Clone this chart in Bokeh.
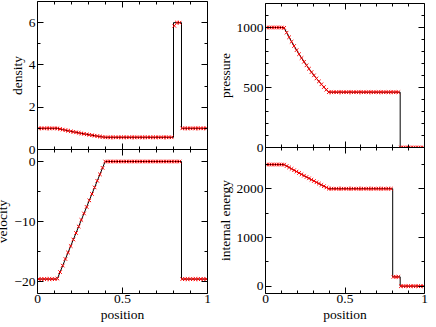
from bokeh.plotting import figure
from bokeh.models import LinearAxis, FixedTicker, Range1d
from bokeh.layouts import row, column
from bokeh.embed import file_html
from bokeh.resources import INLINE

# ---- exact solution (line) ----
x_exact = [0.0, 0.116, 0.163, 0.210, 0.257, 0.304, 0.351, 0.398, 0.8, 0.8, 0.847, 0.847, 1.0]
rho_exact = [1.0, 1.0, 0.9157, 0.8372, 0.7641, 0.6963, 0.6334, 0.5751, 0.5751, 5.999, 5.999, 1.0, 1.0]
vel_exact = [-19.6, -19.6, -16.33, -13.07, -9.80, -6.53, -3.27, 0.0, 0.0, 0.0, 0.0, -19.6, -19.6]
prs_exact = [1000, 1000, 884.0, 779.7, 686.2, 602.4, 527.6, 460.9, 460.9, 460.9, 460.9, 0.01, 0.01]
ene_exact = [2500, 2500, 2413.5, 2328.5, 2245.0, 2163.0, 2082.6, 2003.5, 2003.5, 192.1, 192.1, 0.025, 0.025]

# ---- numerical solution (markers) ----
x_cells = [0.0078, 0.0234, 0.0391, 0.0547, 0.0703, 0.0859, 0.1016, 0.1172, 0.1328, 0.1484,
           0.1641, 0.1797, 0.1953, 0.2109, 0.2266, 0.2422, 0.2578, 0.2734, 0.2891, 0.3047,
           0.3203, 0.3359, 0.3516, 0.3672, 0.3828, 0.3984, 0.4141, 0.4297, 0.4453, 0.4609,
           0.4766, 0.4922, 0.5078, 0.5234, 0.5391, 0.5547, 0.5703, 0.5859, 0.6016, 0.6172,
           0.6328, 0.6484, 0.6641, 0.6797, 0.6953, 0.7109, 0.7266, 0.7422, 0.7578, 0.7734,
           0.7891, 0.8047, 0.8203, 0.8359, 0.8516, 0.8672, 0.8828, 0.8984, 0.9141, 0.9297,
           0.9453, 0.9609, 0.9766, 0.9922]
density = [1.0, 1.0, 1.0, 1.0, 1.0, 1.0, 1.0,
           0.9978, 0.9692, 0.9412, 0.9138, 0.8872, 0.8611, 0.8357, 0.8108, 0.7866, 0.7629,
           0.7399, 0.7173, 0.6954, 0.6740, 0.6531, 0.6326, 0.6128, 0.5935,
           0.5751, 0.5751, 0.5751, 0.5751, 0.5751, 0.5751, 0.5751, 0.5751, 0.5751, 0.5751,
           0.5751, 0.5751, 0.5751, 0.5751, 0.5751, 0.5751, 0.5751, 0.5751, 0.5751, 0.5751,
           0.5751, 0.5751, 0.5751, 0.5751, 0.5751, 0.5751,
           5.85, 6.0, 6.0,
           1.0, 1.0, 1.0, 1.0, 1.0, 1.0, 1.0, 1.0, 1.0, 1.0]
velocity = [-19.6, -19.6, -19.6, -19.6, -19.6, -19.6, -19.6,
            -19.51, -18.43, -17.35, -16.25, -15.17, -14.09, -13.00, -11.91, -10.83, -9.74,
            -8.66, -7.57, -6.48, -5.40, -4.32, -3.22, -2.14, -1.06,
            0.0, 0.0, 0.0, 0.0, 0.0, 0.0, 0.0, 0.0, 0.0, 0.0,
            0.0, 0.0, 0.0, 0.0, 0.0, 0.0, 0.0, 0.0, 0.0, 0.0,
            0.0, 0.0, 0.0, 0.0, 0.0, 0.0,
            0.0, 0.0, 0.0,
            -19.6, -19.6, -19.6, -19.6, -19.6, -19.6, -19.6, -19.6, -19.6, -19.6]
pressure = [1000, 1000, 1000, 1000, 1000, 1000, 1000,
            996.9, 957.1, 918.7, 881.4, 845.7, 811.1, 777.8, 745.5, 714.5, 684.7,
            655.9, 628.0, 601.2, 575.5, 550.7, 526.7, 503.7, 481.6,
            460.9, 460.9, 460.9, 460.9, 460.9, 460.9, 460.9, 460.9, 460.9, 460.9,
            460.9, 460.9, 460.9, 460.9, 460.9, 460.9, 460.9, 460.9, 460.9, 460.9,
            460.9, 460.9, 460.9, 460.9, 460.9, 460.9,
            460.9, 460.9, 460.9,
            0.01, 0.01, 0.01, 0.01, 0.01, 0.01, 0.01, 0.01, 0.01, 0.01]
energy = [2500, 2500, 2500, 2500, 2500, 2500, 2500,
          2497.8, 2468.9, 2440.2, 2411.5, 2383.1, 2354.9, 2326.9, 2298.8, 2271.1, 2243.6,
          2216.2, 2188.8, 2161.8, 2134.9, 2108.2, 2081.5, 2055.2, 2029.0,
          2003.5, 2003.5, 2003.5, 2003.5, 2003.5, 2003.5, 2003.5, 2003.5, 2003.5, 2003.5,
          2003.5, 2003.5, 2003.5, 2003.5, 2003.5, 2003.5, 2003.5, 2003.5, 2003.5, 2003.5,
          2003.5, 2003.5, 2003.5, 2003.5, 2003.5, 2003.5,
          192.1, 192.1, 192.1,
          0.025, 0.025, 0.025, 0.025, 0.025, 0.025, 0.025, 0.025, 0.025, 0.025]

# ---- axes ----
x_major = [0, 0.5, 1]
x_minor = [0.1, 0.2, 0.3, 0.4, 0.6, 0.7, 0.8, 0.9]
x_label = "position"

FONT = "Liberation Serif"
FS = "13.5px"


def base_axis(ax):
    ax.major_tick_out = 0
    ax.minor_tick_out = 0
    ax.axis_line_color = "black"
    ax.axis_line_width = 1
    ax.major_tick_line_color = "black"
    ax.minor_tick_line_color = "black"
    ax.major_label_text_font = FONT
    ax.major_label_text_color = "black"
    ax.major_label_text_font_size = FS


def labelled_axis(ticks, minor, label, standoff, label_standoff):
    ax = LinearAxis(ticker=FixedTicker(ticks=ticks, minor_ticks=minor))
    base_axis(ax)
    ax.major_tick_in = 6
    ax.minor_tick_in = 3
    ax.major_label_standoff = standoff
    ax.axis_label = label
    ax.axis_label_text_font = FONT
    ax.axis_label_text_font_size = FS
    ax.axis_label_text_font_style = "normal"
    ax.axis_label_text_color = "black"
    ax.axis_label_standoff = label_standoff
    return ax


def plain_axes(ticks, minor):
    # inward ticks only, no labels (major ticks drawn as long unlabelled ticks)
    a1 = LinearAxis(ticker=FixedTicker(ticks=[], minor_ticks=minor))
    base_axis(a1)
    a1.minor_tick_in = 3
    a1.major_label_standoff = 0
    a2 = LinearAxis(ticker=FixedTicker(ticks=[], minor_ticks=ticks))
    base_axis(a2)
    a2.minor_tick_in = 6
    a2.major_label_standoff = 0
    a2.axis_line_color = None
    return [a1, a2]


def make_panel(w, h, yr, borders, ylabel, yticks, yminor, bottom_labels, xd, yd, xl, yl):
    bl, br, bt, bb = borders
    p = figure(width=w, height=h, x_range=Range1d(0, 1), y_range=Range1d(*yr),
               output_backend="svg", toolbar_location=None,
               x_axis_location=None, y_axis_location=None,
               min_border_left=bl, min_border_right=br,
               min_border_top=bt, min_border_bottom=bb)
    p.outline_line_color = None
    p.background_fill_color = "white"
    p.border_fill_color = "white"
    p.xgrid.visible = False
    p.ygrid.visible = False

    p.add_layout(labelled_axis(yticks, yminor, ylabel, 2, 1), "left")
    for a in plain_axes(yticks, yminor):
        p.add_layout(a, "right")
    if bottom_labels:
        p.add_layout(labelled_axis(x_major, x_minor, x_label, 1, 1), "below")
    else:
        for a in plain_axes(x_major, x_minor):
            p.add_layout(a, "below")
    for a in plain_axes(x_major, x_minor):
        p.add_layout(a, "above")

    p.line(xl, yl, line_color="black", line_width=1)
    p.scatter(xd, yd, marker="x", size=5, line_color="red", line_width=1)
    return p


# top panels extend 8px below their frame so the "0" label is not cut;
# the bottom panels overlap that strip with a transparent border.
f1 = make_panel(222, 157, (0, 7), (39, 7, 1, 8), "density",
                [0, 2, 4, 6], [1, 3, 5], False, x_cells, density, x_exact, rho_exact)
f2 = make_panel(222, 178, (-22, 2), (39, 7, 0, 34), "velocity",
                [-20, -10, 0], [-15, -5], True, x_cells, velocity, x_exact, vel_exact)
f3 = make_panel(214, 155, (0, 1200), (50, 4, 3, 8), "pressure",
                [0, 500, 1000], [100, 200, 300, 400, 600, 700, 800, 900, 1100], False,
                x_cells, pressure, x_exact, prs_exact)
f4 = make_panel(214, 180, (-150, 2850), (50, 4, 0, 34), "internal energy",
                [0, 1000, 2000], [500, 1500, 2500], True, x_cells, energy, x_exact, ene_exact)

for fb in (f2, f4):
    fb.border_fill_alpha = 0
    fb.styles = {"margin-top": "-8px", "flex-shrink": "0"}
for ft in (f1, f3):
    ft.styles = {"flex-shrink": "0"}

c1 = column(f1, f2)
c2 = column(f3, f4)
c1.styles = {"flex-shrink": "0", "min-width": "222px"}
c2.styles = {"flex-shrink": "0", "min-width": "214px"}
lay = row(c1, c2)
lay.styles = {"margin-left": "-8px", "width": "436px", "min-width": "436px"}

open("out.html", "w").write(file_html(lay, INLINE))
